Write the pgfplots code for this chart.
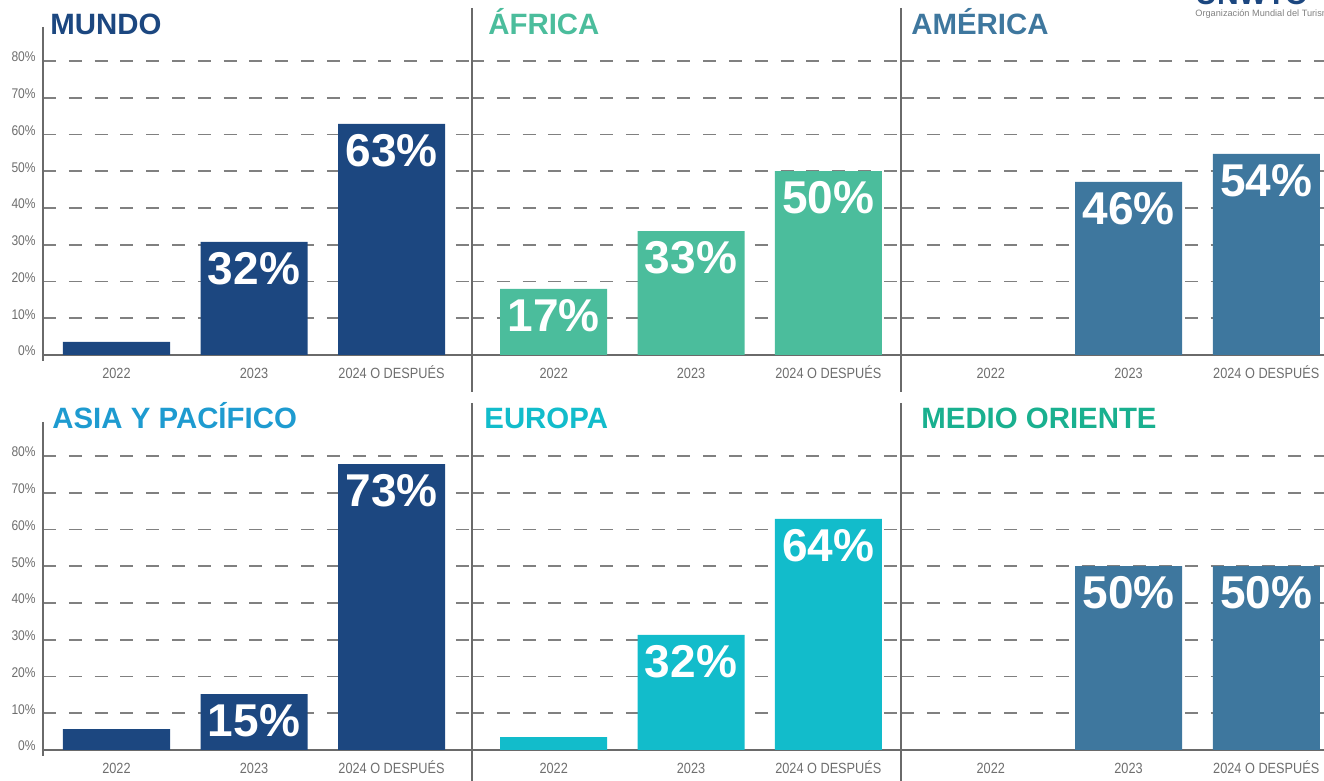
\documentclass[border=0pt]{standalone}
\usepackage{fontspec}
\setmainfont{Liberation Sans}
\newfontfamily\narrowfont[FakeStretch=0.86]{Liberation Sans}
\usepackage{pgfplots}
\pgfplotsset{compat=1.18}

\definecolor{cMundo}{HTML}{1C4780}
\definecolor{cAfrica}{HTML}{4BBD9C}
\definecolor{cAmerica}{HTML}{3E779E}
\definecolor{cAsiaT}{HTML}{1E9BD0}
\definecolor{cEuropa}{HTML}{12BCCB}
\definecolor{cMedioT}{HTML}{19B08F}
\definecolor{cLine}{HTML}{6A6A6A}
\definecolor{cGrid}{HTML}{808080}
\definecolor{cTick}{HTML}{6E6E6E}

\pgfplotsset{
  panel/.style={
    ybar, bar width=53.5pt,
    scale only axis, width=#1, height=147pt,
    anchor=south west, enlargelimits=false,
    ymin=0, ymax=80,
    xtick={0,1,2},
    xticklabels={2022,2023,2024 O DESPUÉS},
    ytick={10,20,...,80},
    yticklabels={},
    ymajorgrids,
    major grid style={cGrid, line width=0.95pt, dash pattern=on 6.5pt off 6.4pt},
    axis line style={draw=none},
    tick style={draw=none},
    xticklabel style={anchor=base, inner sep=0pt, yshift=-7.4pt,
      font=\narrowfont\fontsize{7.4}{8}\selectfont, text=cTick},
    yticklabel style={anchor=base east, inner sep=0pt, xshift=-3.5pt, yshift=-0.4pt,
      font=\narrowfont\fontsize{7}{8}\selectfont, text=cTick},
    point meta=explicit symbolic,
    nodes near coords,
    every node near coord/.append style={anchor=north, yshift=-5pt, inner sep=0pt,
      text=white, font=\fontsize{23}{23}\selectfont\bfseries},
    clip=false,
  },
  leftpanel/.style={
    yticklabels={10\%,20\%,30\%,40\%,50\%,60\%,70\%,80\%},
    extra y ticks={0}, extra y tick labels={0\%},
    extra y tick style={grid=none},
  },
}
\tikzset{ptitle/.style={anchor=base west, inner sep=0pt, font=\fontsize{14.7}{15}\selectfont\bfseries}}

\begin{document}
\begin{tikzpicture}
% baselines (under the bars)
\begin{scope}[x=0.5pt, y=-0.5pt, yshift=390.5pt]
  \draw[cLine, line width=1pt] (43,355) -- (1324,355);
  \draw[cLine, line width=1pt] (43,750) -- (1324,750);
\end{scope}

% top row
\begin{axis}[panel=214pt, leftpanel, at={(21.5pt,213pt)}, xmin=-0.5345, xmax=2.578]
  \addplot[fill=cMundo, draw=none] coordinates {(0,3.6) [] (1,30.8) [32\%] (2,62.9) [63\%]};
\end{axis}
\begin{axis}[panel=215pt, at={(235.5pt,213pt)}, xmin=-0.602, xmax=2.529]
  \addplot[fill=cAfrica, draw=none] coordinates {(0,18.0) [17\%] (1,33.7) [33\%] (2,50.0) [50\%]};
\end{axis}
\begin{axis}[panel=211.5pt, at={(450.5pt,213pt)}, xmin=-0.652, xmax=2.419]
  \addplot[fill=cAmerica, draw=none] coordinates {(1,47.1) [46\%] (2,54.7) [54\%]};
\end{axis}

% bottom row
\begin{axis}[panel=214pt, leftpanel, at={(21.5pt,15.5pt)}, xmin=-0.5345, xmax=2.578]
  \addplot[fill=cMundo, draw=none] coordinates {(0,5.7) [] (1,15.2) [15\%] (2,77.8) [73\%]};
\end{axis}
\begin{axis}[panel=215pt, at={(235.5pt,15.5pt)}, xmin=-0.602, xmax=2.529]
  \addplot[fill=cEuropa, draw=none] coordinates {(0,3.5) [] (1,31.3) [32\%] (2,62.9) [64\%]};
\end{axis}
\begin{axis}[panel=211.5pt, at={(450.5pt,15.5pt)}, xmin=-0.652, xmax=2.419]
  \addplot[fill=cAmerica, draw=none] coordinates {(1,50.0) [50\%] (2,50.0) [50\%]};
\end{axis}

\begin{scope}[x=0.5pt, y=-0.5pt, yshift=390.5pt]
  % y axis lines and separators
  \draw[cLine, line width=1pt] (43,27) -- (43,361);
  \draw[cLine, line width=1pt] (43,422) -- (43,756);
  \draw[cLine, line width=1pt] (471.5,8) -- (471.5,392);
  \draw[cLine, line width=1pt] (901,8) -- (901,392);
  \draw[cLine, line width=1pt] (471.5,403) -- (471.5,781);
  \draw[cLine, line width=1pt] (901,403) -- (901,781);
  % titles
  \node[ptitle, text=cMundo] at (50,35) {MUNDO};
  \node[ptitle, text=cAfrica] at (488,35) {ÁFRICA};
  \node[ptitle, text=cAmerica] at (911,35) {AMÉRICA};
  \node[ptitle, text=cAsiaT] at (52,429) {ASIA Y PACÍFICO};
  \node[ptitle, text=cEuropa] at (484,429) {EUROPA};
  \node[ptitle, text=cMedioT] at (921,429) {MEDIO ORIENTE};
\end{scope}

% logo, cut by the top edge as in the source
\begin{scope}
  \clip (0,0) rectangle (662pt,390.5pt);
  \node[anchor=base west, inner sep=0pt, text=cMundo, font=\fontsize{15}{15}\selectfont\bfseries]
    at (597.5pt,388pt) {UNWTO};
  \node[anchor=base west, inner sep=0pt, text=gray, font=\fontsize{4.6}{5}\selectfont]
    at (597.5pt,382pt) {Organización Mundial del Turismo};
\end{scope}

\pgfresetboundingbox
\path[use as bounding box] (0,0) rectangle (662pt,390.5pt);
\end{tikzpicture}
\end{document}
